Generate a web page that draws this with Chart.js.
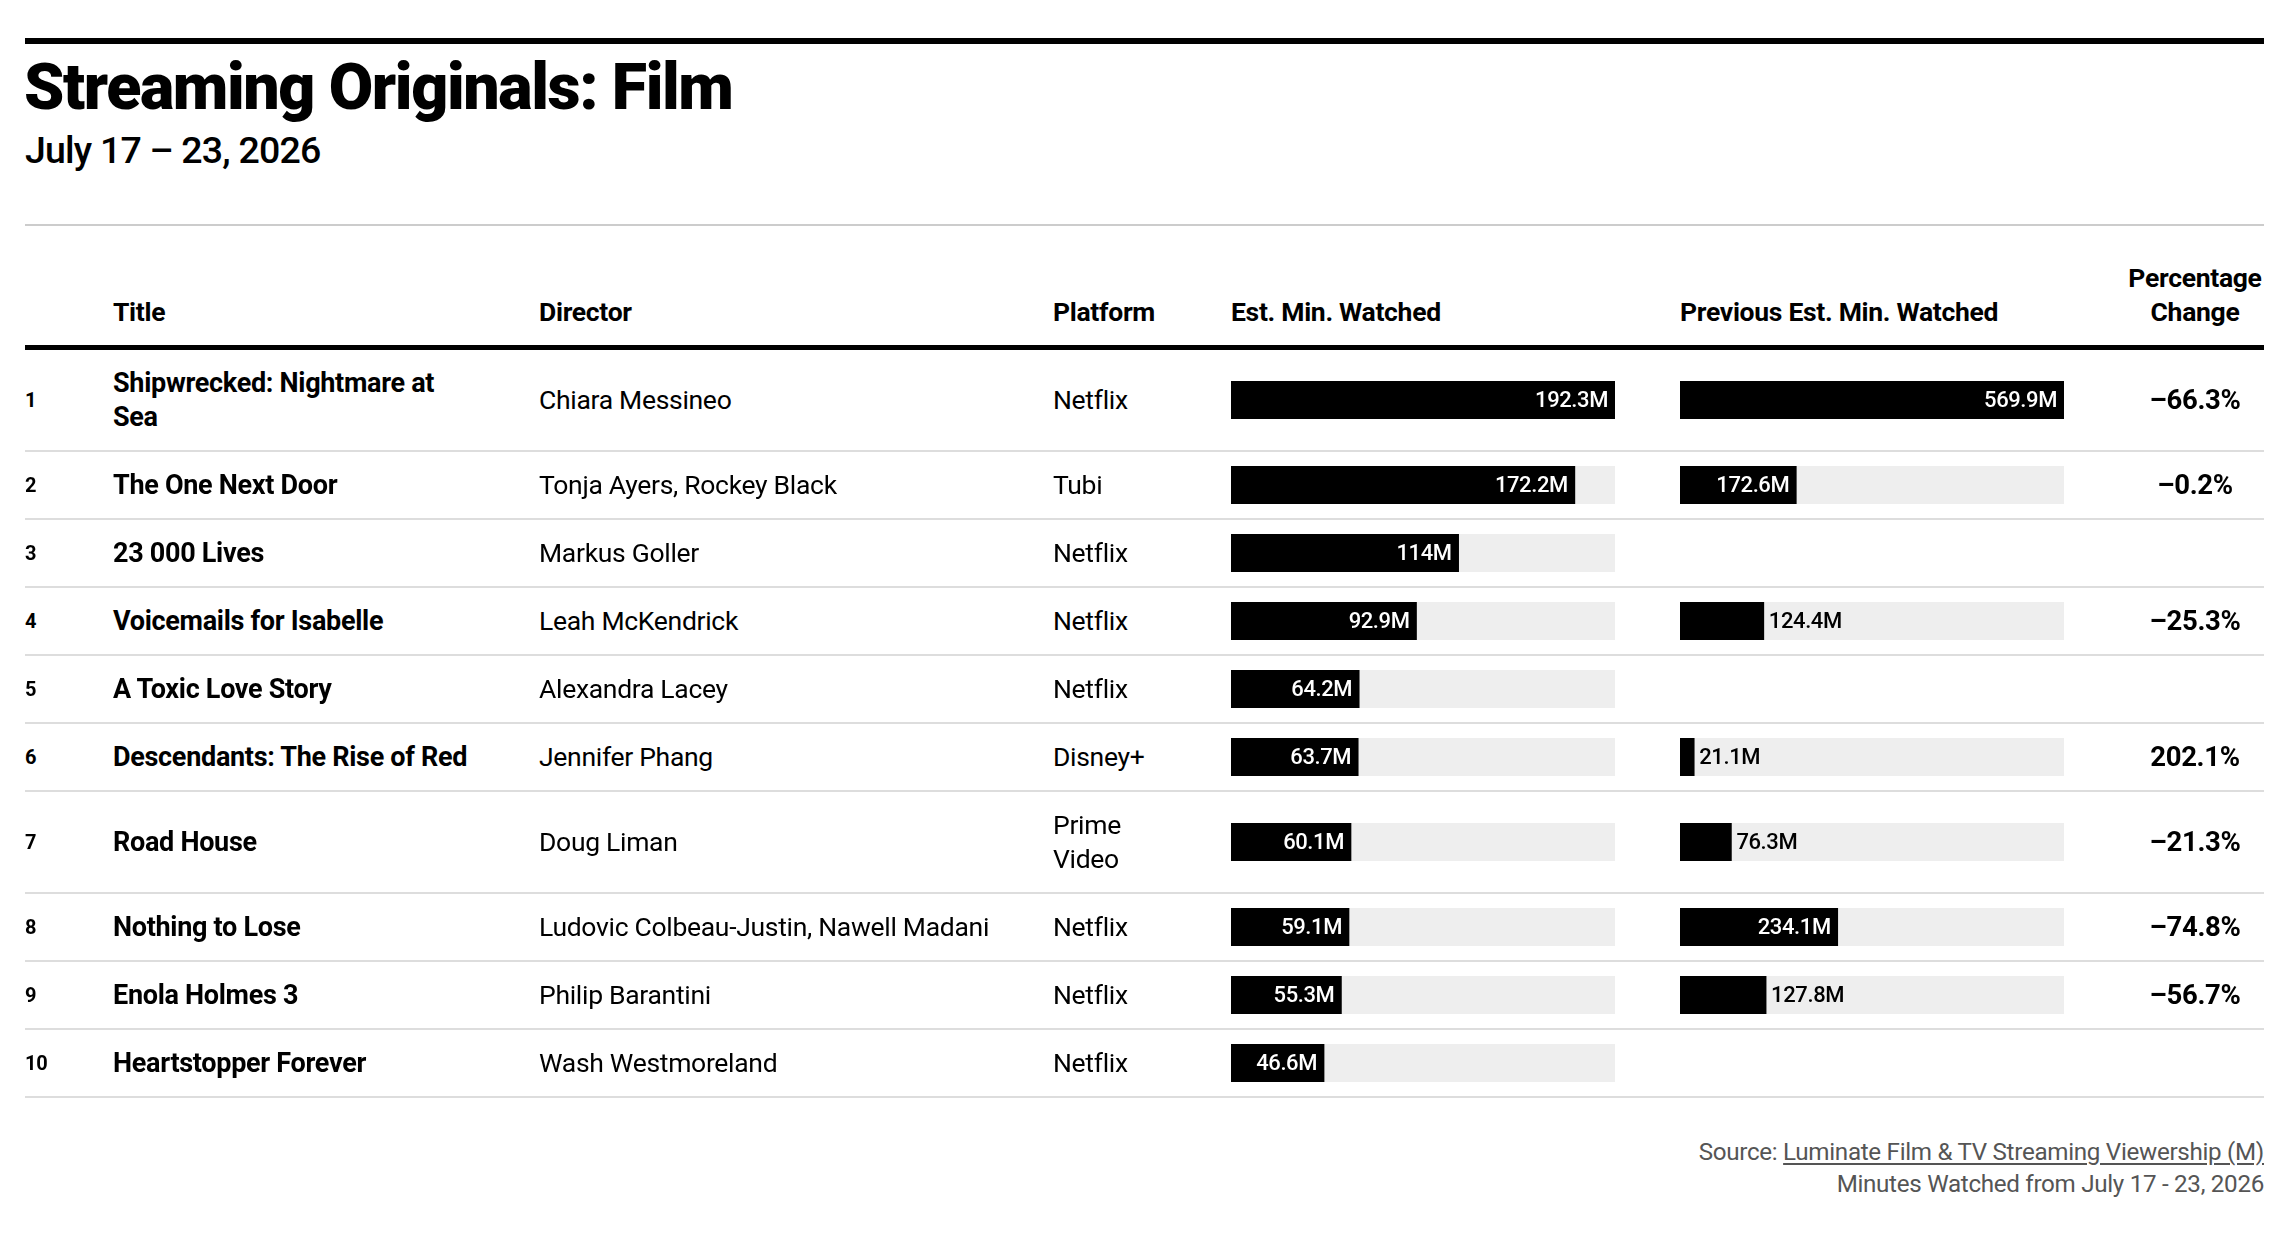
<!DOCTYPE html>
<html><head><meta charset="utf-8">
<script src="https://cdn.jsdelivr.net/npm/chart.js@4.4.1/dist/chart.umd.min.js"></script>
<style>
html,body{margin:0;padding:0;background:#fff;}
body{width:2296px;height:1249px;position:relative;overflow:hidden;font-family:Roboto,"Noto Sans",sans-serif;color:#000;}
#topRule{position:absolute;left:25px;top:38px;width:2239px;height:6px;background:#000;}
#title{position:absolute;left:24px;top:51px;font-size:64.5px;font-weight:900;letter-spacing:-1.4px;line-height:72px;white-space:nowrap;}
#subtitle{position:absolute;left:25px;top:128px;font-size:37.5px;font-weight:500;letter-spacing:-0.8px;line-height:44px;white-space:nowrap;}
#grayRule{position:absolute;left:25px;top:224px;width:2239px;height:2px;background:#ccc;}
table{position:absolute;left:25px;top:226px;width:2239px;border-collapse:collapse;table-layout:fixed;}
th{font-weight:700;font-size:26.5px;line-height:34px;text-align:left;vertical-align:bottom;padding:0 0 16px 0;height:103px;border-bottom:5px solid #000;letter-spacing:-0.3px;}
td{font-size:26.5px;line-height:34px;vertical-align:middle;padding:16px 0;border-bottom:2px solid #ddd;letter-spacing:-0.3px;}
td.rank{font-size:20px;font-weight:700;}
td.title{font-weight:700;font-size:27px;padding-right:62px;}
td.plat{padding-right:61px;}
td.pct{font-weight:700;font-size:27.5px;text-align:center;}
th.pct{text-align:center;}
td.bar{padding:14px 0;}
td.bar canvas{display:block;}
#footer{position:absolute;right:32px;top:1136px;text-align:right;font-size:24.2px;line-height:32px;color:#555;letter-spacing:-0.3px;white-space:nowrap;}
#footer u{text-decoration:underline;text-underline-offset:3px;}
</style></head>
<body>
<div id="topRule"></div>
<div id="title">Streaming Originals: Film</div>
<div id="subtitle">July 17 – 23, 2026</div>
<div id="grayRule"></div>
<table id="tbl">
<colgroup><col style="width:88px"><col style="width:426px"><col style="width:514px"><col style="width:178px"><col style="width:449px"><col style="width:446px"><col style="width:138px"></colgroup>
<thead><tr><th></th><th>Title</th><th>Director</th><th>Platform</th><th>Est. Min. Watched</th><th>Previous Est. Min. Watched</th><th class="pct">Percentage<br>Change</th></tr></thead>
<tbody id="tbody"></tbody>
</table>
<div id="footer">Source: <u>Luminate Film &amp; TV Streaming Viewership (M)</u><br>Minutes Watched from July 17 - 23, 2026</div>
<script>
const ranks = [1,2,3,4,5,6,7,8,9,10];
const titles = ["Shipwrecked: Nightmare at Sea","The One Next Door","23 000 Lives","Voicemails for Isabelle","A Toxic Love Story","Descendants: The Rise of Red","Road House","Nothing to Lose","Enola Holmes 3","Heartstopper Forever"];
const directors = ["Chiara Messineo","Tonja Ayers, Rockey Black","Markus Goller","Leah McKendrick","Alexandra Lacey","Jennifer Phang","Doug Liman","Ludovic Colbeau-Justin, Nawell Madani","Philip Barantini","Wash Westmoreland"];
const platforms = ["Netflix","Tubi","Netflix","Netflix","Netflix","Disney+","Prime Video","Netflix","Netflix","Netflix"];
const estWatched = [192.3,172.2,114,92.9,64.2,63.7,60.1,59.1,55.3,46.6];
const prevWatched = [569.9,172.6,null,124.4,null,21.1,76.3,234.1,127.8,null];
const pctChange = [-66.3,-0.2,null,-25.3,null,202.1,-21.3,-74.8,-56.7,null];

const estMax = Math.max(...estWatched);
const prevMax = Math.max(...prevWatched.filter(v => v != null));

const trackPlugin = {
  id:'track',
  beforeDatasetsDraw(chart){
    const {ctx, chartArea:a} = chart;
    ctx.save(); ctx.fillStyle = '#eeeeee';
    ctx.fillRect(a.left, a.top, a.right - a.left, a.bottom - a.top);
    ctx.restore();
  }
};
const labelPlugin = {
  id:'barLabel',
  afterDatasetsDraw(chart){
    const {ctx} = chart;
    const bar = chart.getDatasetMeta(0).data[0];
    const v = chart.data.datasets[0].data[0];
    const txt = v + 'M';
    ctx.save();
    ctx.font = '500 22px Roboto, "Noto Sans", sans-serif';
    try { ctx.letterSpacing = '-0.4px'; } catch(e) {}
    ctx.textBaseline = 'middle';
    const w = ctx.measureText(txt).width;
    const pad = 7;
    const barW = bar.x - bar.base;
    if (barW > w + pad * 2) {
      ctx.fillStyle = '#fff'; ctx.textAlign = 'right';
      ctx.fillText(txt, bar.x - pad, bar.y + 1);
    } else {
      ctx.fillStyle = '#000'; ctx.textAlign = 'left';
      ctx.fillText(txt, bar.x + 5, bar.y + 1);
    }
    ctx.restore();
  }
};

function makeBar(canvas, value, max){
  new Chart(canvas, {
    type:'bar',
    data:{labels:[''], datasets:[{data:[value], backgroundColor:'#000', borderWidth:0, barPercentage:1, categoryPercentage:1}]},
    options:{indexAxis:'y', responsive:false, animation:false, events:[], devicePixelRatio:1,
      layout:{padding:0},
      scales:{x:{display:false, min:0, max:max}, y:{display:false}},
      plugins:{legend:{display:false}, tooltip:{enabled:false}}},
    plugins:[trackPlugin, labelPlugin]
  });
}

function fmtPct(p){
  if (p == null) return '';
  return (p < 0 ? '\u2013' + Math.abs(p) : String(p)) + '%';
}

const tbody = document.getElementById('tbody');
ranks.forEach((r, i) => {
  const tr = document.createElement('tr');
  const cells = [
    ['rank', r], ['title', titles[i]], ['dir', directors[i]], ['plat', platforms[i]]
  ];
  cells.forEach(([c, t]) => { const td = document.createElement('td'); td.className = c; td.textContent = t; tr.appendChild(td); });
  [[estWatched[i], estMax], [prevWatched[i], prevMax]].forEach(([v, m]) => {
    const td = document.createElement('td'); td.className = 'bar';
    if (v != null) {
      const cv = document.createElement('canvas'); cv.width = 384; cv.height = 38;
      cv.style.width = '384px'; cv.style.height = '38px';
      td.appendChild(cv); tr.appendChild(td);
      makeBar(cv, v, m);
    } else {
      const sp = document.createElement('div'); sp.style.height = '38px'; td.appendChild(sp); tr.appendChild(td);
    }
  });
  const tdp = document.createElement('td'); tdp.className = 'pct'; tdp.textContent = fmtPct(pctChange[i]); tr.appendChild(tdp);
  tbody.appendChild(tr);
});
</script>
</body></html>
